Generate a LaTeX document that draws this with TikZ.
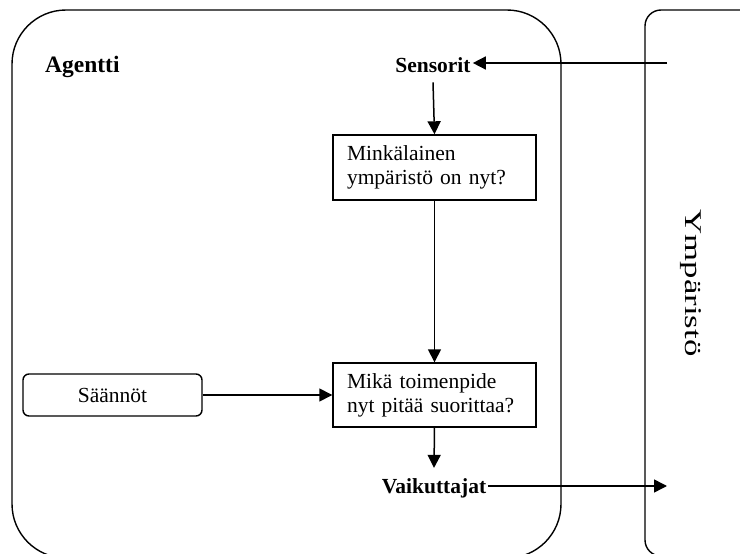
\documentclass[tikz,border=0pt]{standalone}
\usepackage{fontspec}
\usepackage{graphicx}
\setmainfont{Liberation Serif}
\usetikzlibrary{arrows.meta}

\tikzset{
  frame/.style={draw, line width=1.4pt, inner sep=0pt},
  stepbox/.style={draw, line width=1.4pt, minimum height=64pt, text width=175pt,
    inner xsep=14pt, inner ysep=0pt, align=left,
    font=\fontsize{21.5}{24}\selectfont},
  rulebox/.style={draw, line width=1.4pt, rounded corners=6pt, minimum width=179pt,
    minimum height=42pt, inner sep=0pt, font=\fontsize{21.5}{24}\selectfont},
  label/.style={inner sep=2pt, font=\fontsize{21.5}{24}\selectfont\bfseries},
  arr/.style={line width=1.5pt, -{Triangle[length=13pt,width=13pt]}},
}

\begin{document}
\begin{tikzpicture}[x=1pt,y=-1pt]
  \useasboundingbox (0,0) rectangle (740,554);
  \clip (0,0) rectangle (740,554);

  % outer frames: the agent and its environment
  \node[frame, rounded corners=54pt, minimum width=549pt, minimum height=548pt]
    (agent) at (286.5,284) {};
  \node[frame, rounded corners=16pt, minimum width=115pt, minimum height=546pt]
    (env) at (702.5,283) {};
  \node[rotate=-90, inner sep=0pt, font=\fontsize{24}{26}\selectfont]
    (envtext) at (691,283) {\scalebox{1.45}[1]{Ympäristö}};

  % labels
  \node[label, anchor=base west] (agentti) at (43,72) {\fontsize{23.5}{26}\selectfont Agentti};
  \node[label, anchor=base] (sens) at (433,72) {Sensorit};
  \node[label, anchor=base] (vaik) at (434,493) {Vaikuttajat};

  % processing steps
  \node[stepbox, minimum height=65pt] (state) at (434.5,167.5)
    {Minkälainen\\ympäristö on nyt?};
  \node[stepbox] (action) at (434.5,395)
    {Mikä toimenpide\\nyt pitää suorittaa?};
  \node[rulebox] (rules) at (112.5,395) {Säännöt};

  % connectors
  \coordinate (percept) at (667,63);
  \coordinate (effect) at (667,486);
  \draw[arr] (percept) -- (sens.east |- percept);
  \draw[arr] ([yshift=-8pt]sens.south) -- (state.north);
  \draw[arr] (state.south) -- (action.north);
  \draw[arr] (rules.east) -- (action.west);
  \draw[arr] (action.south) -- ([yshift=8pt]vaik.north);
  \draw[arr] (vaik.east |- effect) -- (effect);
\end{tikzpicture}
\end{document}
